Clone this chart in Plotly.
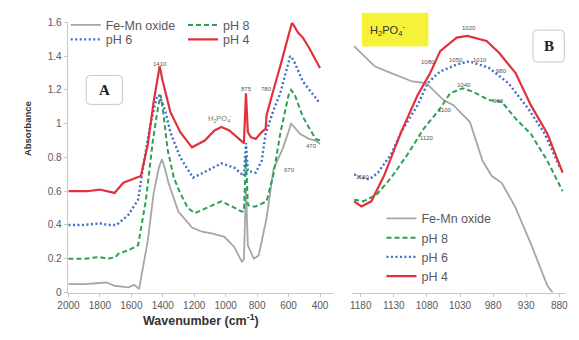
import plotly.graph_objects as go

W, H = 579, 340

# ---------------- Panel A: 2000-400 cm-1 spectra ----------------
a_oxide_wn = [2000, 1900, 1819, 1757, 1707, 1619, 1582, 1551, 1495, 1458, 1425, 1405, 1385, 1364, 1301,
              1214, 1150, 1089, 1008, 946, 896, 884, 871, 859, 821, 790, 740, 696, 634, 584, 555, 528,
              470, 428, 400]
a_oxide_abs = [0.05, 0.05, 0.055, 0.06, 0.04, 0.03, 0.045, 0.02, 0.31, 0.59, 0.74, 0.79, 0.73, 0.65, 0.48,
               0.385, 0.36, 0.35, 0.33, 0.27, 0.18, 0.20, 0.62, 0.28, 0.20, 0.22, 0.44, 0.73, 0.86, 1.00,
               0.97, 0.94, 0.91, 0.90, 0.88]

a_ph8_wn = [2000, 1900, 1800, 1750, 1700, 1682, 1620, 1557, 1507, 1463, 1430, 1414, 1395, 1370, 1330,
            1290, 1240, 1196, 1100, 1027, 960, 900, 884, 871, 859, 840, 809, 740, 696, 653, 600, 584,
            560, 509, 428, 400]
a_ph8_abs = [0.20, 0.20, 0.21, 0.20, 0.21, 0.23, 0.25, 0.28, 0.55, 0.90, 1.10, 1.17, 1.05, 0.85, 0.68,
             0.59, 0.50, 0.47, 0.51, 0.54, 0.51, 0.48, 0.48, 0.80, 0.52, 0.51, 0.51, 0.54, 0.70, 0.94,
             1.17, 1.20, 1.17, 1.04, 0.91, 0.90]

a_ph6_wn = [2000, 1900, 1800, 1750, 1694, 1619, 1557, 1519, 1476, 1440, 1426, 1405, 1383, 1352, 1289,
            1227, 1208, 1120, 1027, 946, 884, 871, 859, 809, 771, 746, 696, 653, 590, 570, 509, 400]
a_ph6_abs = [0.40, 0.40, 0.41, 0.40, 0.40, 0.46, 0.55, 0.78, 1.01, 1.15, 1.17, 1.13, 1.07, 0.95, 0.80,
             0.71, 0.68, 0.72, 0.765, 0.74, 0.69, 0.885, 0.72, 0.71, 0.78, 0.94, 1.08, 1.18, 1.40, 1.38,
             1.25, 1.12]

a_ph4_wn = [2000, 1882, 1801, 1757, 1707, 1651, 1589, 1539, 1495, 1458, 1420, 1400, 1352, 1289, 1214,
            1133, 1071, 1027, 977, 915, 884, 871, 859, 840, 809, 771, 746, 740, 721, 696, 653, 615, 584,
            578, 540, 509, 470, 428, 400]
a_ph4_abs = [0.60, 0.60, 0.61, 0.60, 0.59, 0.65, 0.67, 0.69, 0.88, 1.13, 1.34, 1.25, 1.07, 0.95, 0.86,
             0.90, 0.96, 0.98, 0.96, 0.91, 0.885, 1.18, 0.95, 0.92, 0.91, 0.95, 0.97, 1.05, 1.12, 1.20,
             1.34, 1.48, 1.58, 1.60, 1.54, 1.51, 1.45, 1.38, 1.33]

# ---------------- Panel B: 1190-875 cm-1 (phosphate region) ----------------
b_oxide_wn = [1190, 1159, 1134, 1102, 1081, 1055, 1040, 1015, 996, 982, 967, 947, 923, 898, 890]
b_oxide_abs = [1.46, 1.34, 1.30, 1.25, 1.24, 1.14, 1.11, 1.01, 0.78, 0.69, 0.65, 0.51, 0.29, 0.04, 0.0]

b_ph8_wn = [1190, 1176, 1156, 1134, 1109, 1085, 1060, 1045, 1026, 1011, 986, 967, 946, 923, 898, 875]
b_ph8_abs = [0.55, 0.54, 0.58, 0.68, 0.82, 0.97, 1.09, 1.18, 1.21, 1.19, 1.14, 1.13, 1.03, 0.94, 0.78, 0.60]

b_ph6_wn = [1190, 1179, 1167, 1154, 1134, 1119, 1094, 1079, 1060, 1035, 1016, 986, 957, 927, 902, 878]
b_ph6_abs = [0.70, 0.68, 0.67, 0.71, 0.82, 0.95, 1.11, 1.24, 1.31, 1.35, 1.37, 1.33, 1.24, 1.09, 0.94, 0.73]

b_ph4_wn = [1190, 1179, 1164, 1145, 1119, 1094, 1075, 1060, 1035, 1019, 990, 971, 946, 923, 898, 875]
b_ph4_abs = [0.54, 0.51, 0.54, 0.69, 0.95, 1.17, 1.30, 1.43, 1.51, 1.52, 1.49, 1.42, 1.30, 1.11, 0.94, 0.71]

a_xticks = [2000, 1800, 1600, 1400, 1200, 1000, 800, 600, 400]
a_yticks = [0, 0.2, 0.4, 0.6, 0.8, 1, 1.2, 1.4, 1.6]
b_xticks = [1180, 1130, 1080, 1030, 980, 930, 880]

# band labels: (text, x px, y px)
a_band_labels = [("1410", 153, 60), ("875", 242, 86), ("780", 262, 86), ("670", 286, 170), ("470", 308, 145)]
b_band_labels = [("1020", 470, 23), ("1080", 428, 58), ("1050", 456, 56), ("1010", 481, 56), ("980", 503, 67),
                 ("1040", 464, 82), ("960", 500, 98), ("1100", 445, 108), ("1120", 427, 137), ("1160", 361, 177)]

GRAY, GREEN, BLUE, RED = "#a6a6a6", "#2f9e55", "#3f6fc6", "#e0323c"
FONT = "Liberation Sans, Arial, sans-serif"
TXT = "#595959"


def px(x):
    return x / W


def py(y):
    return 1 - y / H


styles = {
    "oxide": dict(color=GRAY, width=1.8, dash="solid"),
    "ph8": dict(color=GREEN, width=2.0, dash="5px,3px"),
    "ph6": dict(color=BLUE, width=2.4, dash="2px,2.5px"),
    "ph4": dict(color=RED, width=2.2, dash="solid"),
}
names = {"oxide": "Fe-Mn oxide", "ph8": "pH 8", "ph6": "pH 6", "ph4": "pH 4"}

fig = go.Figure()

a_series = [("oxide", a_oxide_wn, a_oxide_abs, "legend"), ("ph8", a_ph8_wn, a_ph8_abs, "legend3"),
            ("ph6", a_ph6_wn, a_ph6_abs, "legend4"), ("ph4", a_ph4_wn, a_ph4_abs, "legend5")]
for key, xs, ys, lg in a_series:
    fig.add_trace(go.Scatter(x=xs, y=ys, mode="lines", name=names[key], line=styles[key],
                             xaxis="x", yaxis="y", legend=lg))

b_series = [("oxide", b_oxide_wn, b_oxide_abs), ("ph8", b_ph8_wn, b_ph8_abs),
            ("ph6", b_ph6_wn, b_ph6_abs), ("ph4", b_ph4_wn, b_ph4_abs)]
for key, xs, ys in b_series:
    fig.add_trace(go.Scatter(x=xs, y=ys, mode="lines", name=names[key], line=styles[key],
                             xaxis="x2", yaxis="y2", legend="legend2"))

axis_common = dict(showgrid=False, zeroline=False, showline=True, linecolor="#c8c8c8", linewidth=1,
                   ticks="outside", ticklen=3, tickcolor="#c8c8c8",
                   tickfont=dict(family=FONT, size=10, color=TXT))

ydom = [py(297), py(17)]
legend_font = dict(family=FONT, size=12.5, color=TXT)
leg = dict(bgcolor="rgba(0,0,0,0)", borderwidth=0, font=legend_font, xanchor="left", yanchor="middle",
           itemwidth=30)

fig.update_layout(
    width=W, height=H, margin=dict(l=0, r=0, t=0, b=0),
    paper_bgcolor="white", plot_bgcolor="white",
    xaxis=dict(domain=[px(59), px(330)], range=[2005, 320], tickvals=a_xticks, anchor="y", **axis_common),
    yaxis=dict(domain=ydom, range=[0, 1.6], tickvals=a_yticks, anchor="x", **axis_common),
    xaxis2=dict(domain=[px(350), px(568)], range=[1193, 871], tickvals=b_xticks, anchor="y2", **axis_common),
    yaxis2=dict(domain=ydom, range=[0, 1.6], visible=False, anchor="x2"),
    legend=dict(x=px(57), y=py(20), **leg),
    legend3=dict(x=px(177), y=py(20), **leg),
    legend4=dict(x=px(57), y=py(35), **leg),
    legend5=dict(x=px(177), y=py(35), **leg),
    legend2=dict(x=px(380), y=py(205), bgcolor="rgba(0,0,0,0)", borderwidth=0, font=legend_font,
                 xanchor="left", yanchor="top", itemwidth=30, tracegroupgap=0),
    showlegend=True,
)


def rounded_box(x0, y0, x1, y1, r):
    rx, ry = r / W, r / H
    X0, X1, Y0, Y1 = px(x0), px(x1), py(y1), py(y0)
    return (f"M{X0 + rx},{Y0} L{X1 - rx},{Y0} Q{X1},{Y0} {X1},{Y0 + ry} "
            f"L{X1},{Y1 - ry} Q{X1},{Y1} {X1 - rx},{Y1} L{X0 + rx},{Y1} Q{X0},{Y1} {X0},{Y1 - ry} "
            f"L{X0},{Y0 + ry} Q{X0},{Y0} {X0 + rx},{Y0} Z")


shapes = [
    dict(type="path", xref="paper", yref="paper", path=rounded_box(78, 72, 115, 102, 4),
         line=dict(color="#c8c8c8", width=1), fillcolor="white"),
    dict(type="path", xref="paper", yref="paper", path=rounded_box(535, 25, 567, 58, 4),
         line=dict(color="#c8c8c8", width=1), fillcolor="white"),
    dict(type="rect", xref="paper", yref="paper", x0=px(360), x1=px(428), y0=py(42), y1=py(7),
         line=dict(width=0), fillcolor="#f6f23a", layer="below"),
]
fig.update_layout(shapes=shapes)

ann = []
ann.append(dict(text="<b>A</b>", x=px(96.5), y=py(87), font=dict(family="Liberation Serif, serif", size=15, color="#222")))
ann.append(dict(text="<b>B</b>", x=px(551), y=py(41.5), font=dict(family="Liberation Serif, serif", size=15, color="#222")))
ann.append(dict(text="H<sub>2</sub>PO<sub>4</sub><sup>-</sup>", x=px(386), y=py(25),
                font=dict(family=FONT, size=11, color="#333")))
ann.append(dict(text="H<sub>2</sub>PO<sub>4</sub><sup>-</sup>", x=px(215), y=py(117),
                font=dict(family=FONT, size=7.5, color="#7a7a7a")))
ann.append(dict(text="<b>Absorbance</b>", x=px(18), y=py(127), textangle=-90,
                font=dict(family=FONT, size=9.5, color="#333")))
ann.append(dict(text="<b>Wavenumber (cm<sup>-1</sup>)</b>", x=px(195), y=py(326),
                font=dict(family=FONT, size=12.5, color="#333")))
for t, x, y in a_band_labels + b_band_labels:
    ann.append(dict(text=t, x=px(x), y=py(y), font=dict(family=FONT, size=6, color="#555")))
for a in ann:
    a.update(xref="paper", yref="paper", showarrow=False, xanchor="center", yanchor="middle")
fig.update_layout(annotations=ann)

fig.write_html("out.html")
